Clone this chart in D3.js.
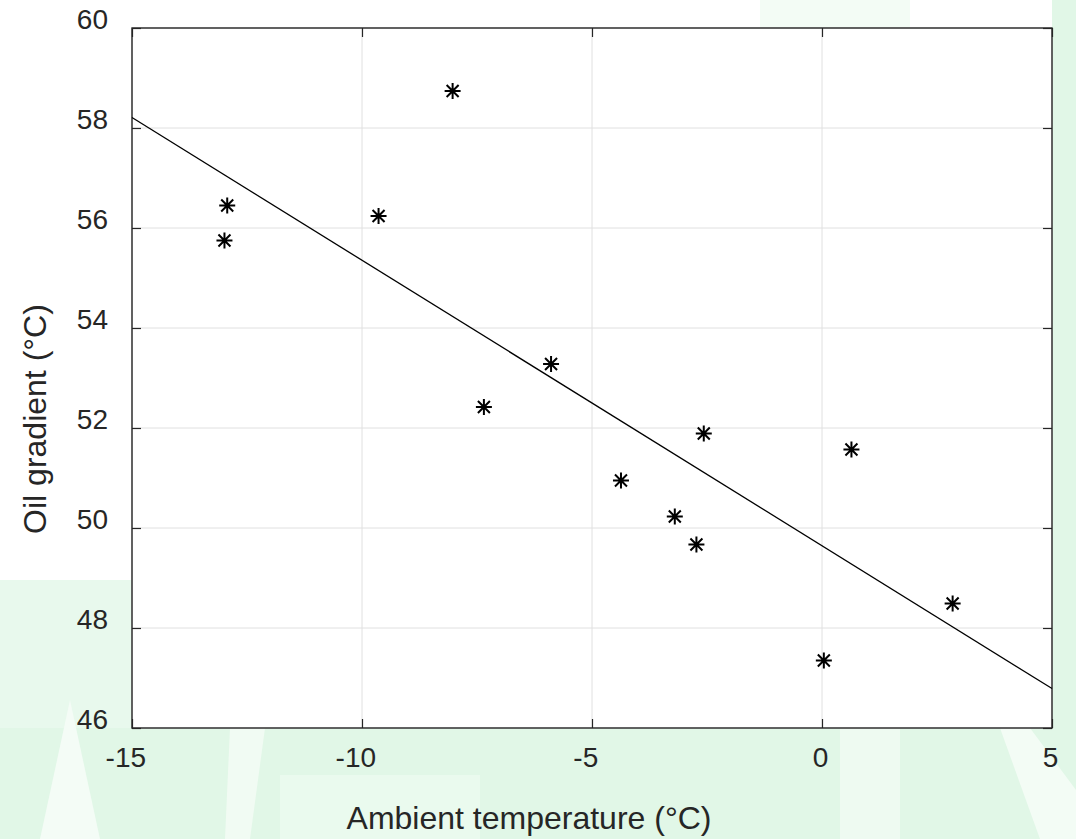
<!DOCTYPE html>
<html>
<head>
<meta charset="utf-8">
<script src="https://cdn.jsdelivr.net/npm/d3@7"></script>
<style>
  body { margin: 0; background: #ffffff; }
  text { font-family: "Liberation Sans", Arial, sans-serif; fill: #262626; }
</style>
</head>
<body>
<div id="chart"></div>
<script>
// measured points (ambient temp, oil gradient)
let ambientTemp = [-12.93, -12.99, -9.64, -8.03, -7.35, -5.89, -4.37, -3.20, -2.73, -2.57, 0.04, 0.64, 2.84];
let oilGradient = [56.45, 55.75, 56.24, 58.74, 52.42, 53.28, 50.95, 50.23, 49.67, 51.89, 47.35, 51.57, 48.49];

// fitted line end points
let fitX = [-15, 5];
let fitY = [58.21, 46.79];

let xTicks = [-15, -10, -5, 0, 5];
let yTicks = [46, 48, 50, 52, 54, 56, 58, 60];

let margin = {top: 28, right: 24, bottom: 111, left: 132}
    , width = 920
    , height = 700;

let svg = d3.select("#chart").append("svg")
    .attr("width", width + margin.left + margin.right)
    .attr("height", height + margin.top + margin.bottom);

// faint green backdrop around the axes
let bg = svg.append("g");
let green = "#e1f7e7";
bg.append("rect").attr("x", 0).attr("y", 580).attr("width", 132).attr("height", 259).attr("fill", "#e8f9ed");
bg.append("rect").attr("x", 0).attr("y", 728).attr("width", 1076).attr("height", 111).attr("fill", green);
bg.append("rect").attr("x", 1052).attr("y", 0).attr("width", 24).attr("height", 839).attr("fill", green);
bg.append("rect").attr("x", 760).attr("y", 0).attr("width", 150).attr("height", 28).attr("fill", "#f3fcf5");
bg.append("polygon").attr("points", "40,839 70,700 100,839").attr("fill", "#f4fcf6");
bg.append("polygon").attr("points", "230,728 265,728 250,839 225,839").attr("fill", "#f1fbf3");
bg.append("rect").attr("x", 280).attr("y", 775).attr("width", 200).attr("height", 64).attr("fill", "#eafaee");
bg.append("rect").attr("x", 840).attr("y", 728).attr("width", 60).attr("height", 111).attr("fill", "#eefaf1");
bg.append("polygon").attr("points", "1000,728 1030,728 1076,790 1076,839 1040,839").attr("fill", "#f3fcf5");

let g = svg.append("g")
    .attr("transform", "translate(" + margin.left + "," + margin.top + ")");

let x = d3.scaleLinear()
    .domain([-15, 5])
    .range([0, width]);

let y = d3.scaleLinear()
    .domain([46, 60])
    .range([height, 0]);

g.append("rect")
    .attr("width", width)
    .attr("height", height)
    .attr("fill", "#ffffff");

// grid
g.append("g")
    .selectAll("line")
    .data(xTicks)
    .enter().append("line")
    .attr("x1", d => x(d)).attr("x2", d => x(d))
    .attr("y1", 0).attr("y2", height)
    .attr("stroke", "#e0e0e0").attr("stroke-width", 1);

g.append("g")
    .selectAll("line")
    .data(yTicks)
    .enter().append("line")
    .attr("x1", 0).attr("x2", width)
    .attr("y1", d => y(d)).attr("y2", d => y(d))
    .attr("stroke", "#e0e0e0").attr("stroke-width", 1);

// axes, ticks pointing inward on all four sides
let tickLen = 9;
let plain = d => String(d);
let xAxis = g.append("g")
    .attr("transform", "translate(0," + height + ")")
    .call(d3.axisBottom(x).tickValues(xTicks).tickSize(-tickLen).tickPadding(0).tickFormat(plain));
let yAxis = g.append("g")
    .call(d3.axisLeft(y).tickValues(yTicks).tickSize(-tickLen).tickPadding(0).tickFormat(plain));
let xTop = g.append("g")
    .call(d3.axisTop(x).tickValues(xTicks).tickSize(-tickLen).tickFormat(""));
let yRight = g.append("g")
    .attr("transform", "translate(" + width + ",0)")
    .call(d3.axisRight(y).tickValues(yTicks).tickSize(-tickLen).tickFormat(""));

[xAxis, yAxis, xTop, yRight].forEach(function (a) {
    a.select(".domain").remove();
    a.selectAll(".tick line").attr("stroke", "#262626").attr("stroke-width", 1.2);
});

xAxis.selectAll(".tick text")
    .attr("y", 39)
    .attr("dy", 0)
    .attr("dx", d => d < 0 ? -6.7 : -2)
    .style("font-size", "28px")
    .style("fill", "#262626");

yAxis.selectAll(".tick text")
    .attr("x", -24)
    .attr("dy", 0)
    .style("font-size", "28px")
    .style("fill", "#262626");

// box
g.append("rect")
    .attr("width", width)
    .attr("height", height)
    .attr("fill", "none")
    .attr("stroke", "#262626")
    .attr("stroke-width", 1.4);

// fitted line
let line = d3.line()
    .x(d => x(d[0]))
    .y(d => y(d[1]));

g.append("path")
    .datum(fitX.map((v, i) => [v, fitY[i]]))
    .attr("d", line)
    .attr("fill", "none")
    .attr("stroke", "#000000")
    .attr("stroke-width", 1.3);

// asterisk markers
let r = 8, rd = 6;
let star = "M" + (-r) + ",0L" + r + ",0M0," + (-r) + "L0," + r +
    "M" + (-rd) + "," + (-rd) + "L" + rd + "," + rd +
    "M" + (-rd) + "," + rd + "L" + rd + "," + (-rd);

g.selectAll(".pt")
    .data(ambientTemp.map((v, i) => [v, oilGradient[i]]))
    .enter().append("path")
    .attr("class", "pt")
    .attr("transform", d => "translate(" + x(d[0]) + "," + y(d[1]) + ")")
    .attr("d", star)
    .attr("fill", "none")
    .attr("stroke", "#000000")
    .attr("stroke-width", 2);

// axis titles
svg.append("text")
    .attr("x", 529)
    .attr("y", 829)
    .attr("text-anchor", "middle")
    .style("font-size", "32px")
    .text("Ambient temperature (°C)");

svg.append("text")
    .attr("transform", "translate(46,419) rotate(-90)")
    .attr("text-anchor", "middle")
    .style("font-size", "32px")
    .text("Oil gradient (°C)");
</script>
</body>
</html>
